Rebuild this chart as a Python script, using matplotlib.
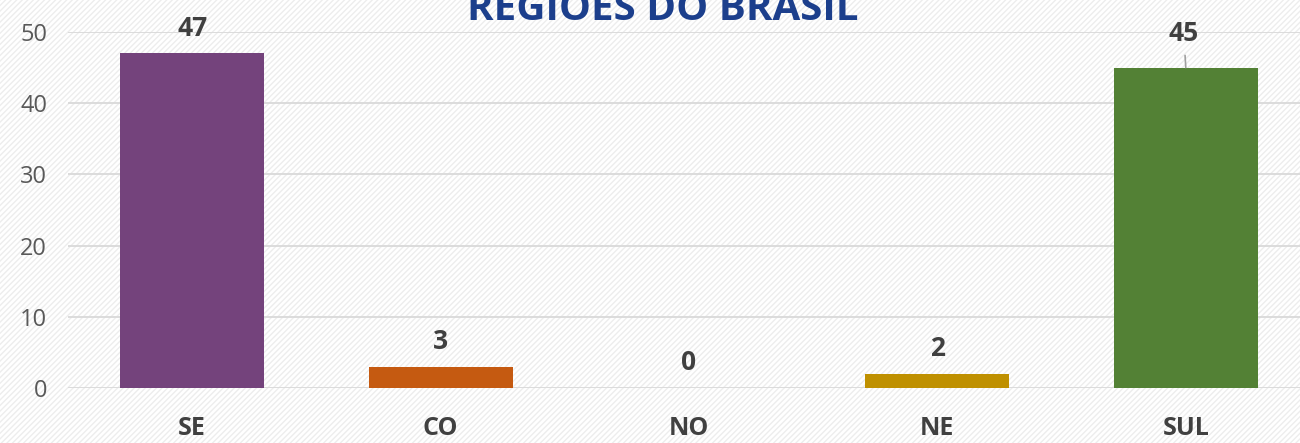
import matplotlib.pyplot as plt
from matplotlib.patches import Rectangle

regioes = ["SE", "CO", "NO", "NE", "SUL"]
valores = [47, 3, 0, 2, 45]
cores = ["#74437c", "#c55a11", "#7f7f7f", "#bf9000", "#538135"]
yticks = [0, 10, 20, 30, 40, 50]

plt.rcParams["font.family"] = ["Open Sans", "DejaVu Sans"]

fig = plt.figure(figsize=(13, 4.43), dpi=100)
fig.patch.set_facecolor("white")
fig.patches.append(Rectangle((0, 0), 1, 1, transform=fig.transFigure,
                             facecolor="white", edgecolor="#ededed",
                             hatch="//////", linewidth=0, zorder=-10))

# axes span from x=68px to past the right edge
ax = fig.add_axes([68 / 1300, (443 - 388) / 443, 1242 / 1300, 356 / 443])
ax.set_facecolor("none")

x = range(len(regioes))
ax.bar(x, valores, width=0.58, color=cores, zorder=3)

ax.set_xlim(-0.5, len(regioes) - 0.5)
ax.set_ylim(0, 50)
ax.set_yticks(yticks)
ax.grid(axis="y", color="#d9d9d9", linewidth=1.3, zorder=0)
ax.set_axisbelow(True)
for s in ax.spines.values():
    s.set_visible(False)
ax.tick_params(length=0)
ax.tick_params(axis="y", labelsize=17, labelcolor="#595959", pad=15)
ax.tick_params(axis="x", labelsize=18, labelcolor="#404040", pad=20)
ax.set_xticks(list(x))
ax.set_xticklabels(regioes, fontweight="bold")

for i, v in enumerate(valores):
    if regioes[i] == "SUL":
        # label pulled up with a leader line, like the original
        ax.annotate(str(v), xy=(i, v), xytext=(-1.5, 24.5),
                    textcoords="offset points",
                    ha="center", va="center", fontsize=19, fontweight="bold",
                    color="#404040",
                    arrowprops=dict(arrowstyle="-", color="#a0a0a0", lw=1.2,
                                    shrinkA=4, shrinkB=0))
    else:
        ax.annotate(str(v), xy=(i, v), xytext=(0, 18),
                    textcoords="offset points", ha="center", va="center",
                    fontsize=19, fontweight="bold", color="#404040")

fig.text(663 / 1300, 1 - 20 / 443, "REGIÕES DO BRASIL", ha="center",
         va="baseline", fontsize=29, fontweight="bold", color="#1c3f8c")

fig.savefig("out.png", dpi=100)
